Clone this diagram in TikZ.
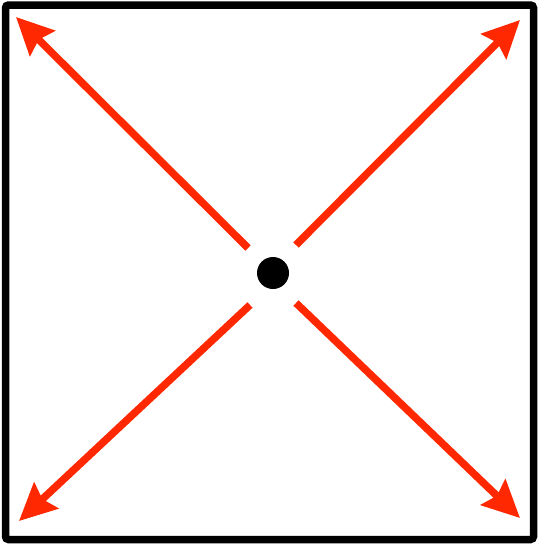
\documentclass[tikz,border=0pt]{standalone}
\usetikzlibrary{arrows.meta}
\definecolor{arrred}{RGB}{255,40,0}
\tikzset{
  ray/.style={draw=arrred, line width=7.5pt, -{Stealth[length=37pt, width=35pt, inset=5pt]}},
  frame/.style={draw=black, line width=7.5pt, rounded corners=3pt}
}
\begin{document}
\begin{tikzpicture}[x=1pt, y=-1pt]
\useasboundingbox (0,0) rectangle (538,544);
\draw[frame] (5.5,5) rectangle (533.5,539.5);
\node[circle, fill=black, inner sep=0pt, minimum size=32pt] (c) at (273,273) {};
\coordinate (ulS) at (248,248); \coordinate (ulE) at (16,17);
\coordinate (urS) at (296,245); \coordinate (urE) at (520,20);
\coordinate (llS) at (250,305); \coordinate (llE) at (19,521);
\coordinate (lrS) at (296,303); \coordinate (lrE) at (520,518);
\draw[ray] (ulS) -- (ulE);
\draw[ray] (urS) -- (urE);
\draw[ray] (llS) -- (llE);
\draw[ray] (lrS) -- (lrE);
\end{tikzpicture}
\end{document}
